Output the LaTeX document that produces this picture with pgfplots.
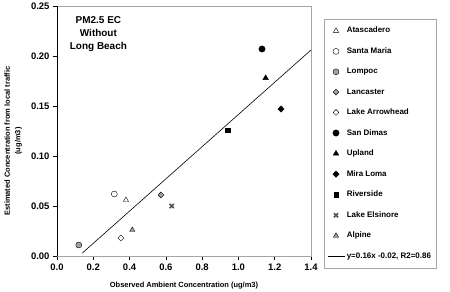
\documentclass[border=0pt]{standalone}
\usepackage{fontspec}
\setmainfont{Liberation Sans}
\usepackage{pgfplots}
\pgfplotsset{compat=1.18}
\definecolor{mgray}{RGB}{165,165,165}
\definecolor{xgray}{RGB}{80,80,80}
\definecolor{fgray}{RGB}{160,160,160}
\begin{document}
\begin{tikzpicture}
\useasboundingbox (-57bp,-36bp) rectangle (393bp,256bp);
\begin{axis}[
  scale only axis, width=254bp, height=250bp,
  xmin=0, xmax=1.4, ymin=0, ymax=0.25,
  xtick={0,0.2,0.4,0.6,0.8,1.0,1.2,1.4},
  ytick={0,0.05,0.1,0.15,0.2,0.25},
  xticklabel style={/pgf/number format/.cd,fixed,fixed zerofill,precision=1},
  yticklabel style={/pgf/number format/.cd,fixed,fixed zerofill,precision=2},
  /pgf/number format/assume math mode=true,
  tick label style={font=\bfseries\fontsize{9.5}{11}\selectfont},
  tick align=outside, xtick pos=bottom, ytick pos=left,
  major tick length=4bp,
  tick style={black, line width=0.6pt},
  axis line style={mgray, line width=0.6pt},
  xlabel={Observed Ambient Concentration (ug/m3)},
  ylabel={Estimated Concentration from local traffic\\(ug/m3)},
  xlabel style={font=\bfseries\fontsize{7.5}{9}\selectfont, at={(axis description cs:0.5,-0.12)}, anchor=center},
  ylabel style={font=\bfseries\fontsize{7.5}{10.5}\selectfont, align=center, at={(axis description cs:-0.172,0.46)}, anchor=center},
  legend style={at={(axis description cs:1.0512,0.948)}, anchor=north west,
    draw=mgray, font=\bfseries\fontsize{8}{9}\selectfont, row sep=9.3bp,
    inner xsep=3bp, inner ysep=6bp},
  legend cell align=left,
  every axis plot/.append style={only marks},
]
\addplot[mark=triangle*, mark size=3, draw=black, fill=white] coordinates {(0.38,0.056)};
\addlegendentry{Atascadero}
\addplot[mark=*, mark size=3, draw=black, fill=white] coordinates {(0.316,0.062)};
\addlegendentry{Santa Maria}
\addplot[mark=*, mark size=3, draw=black, fill=fgray] coordinates {(0.12,0.011)};
\addlegendentry{Lompoc}
\addplot[mark=diamond*, mark size=3, draw=black, fill=fgray, mark options={xscale=1.3}] coordinates {(0.573,0.061)};
\addlegendentry{Lancaster}
\addplot[mark=diamond*, mark size=3, draw=black, fill=white, mark options={xscale=1.3}] coordinates {(0.352,0.018)};
\addlegendentry{Lake Arrowhead}
\addplot[mark=*, mark size=3.2, draw=black, fill=black] coordinates {(1.13,0.207)};
\addlegendentry{San Dimas}
\addplot[mark=triangle*, mark size=3.2, draw=black, fill=black] coordinates {(1.15,0.178)};
\addlegendentry{Upland}
\addplot[mark=diamond*, mark size=3.2, draw=black, fill=black, mark options={xscale=1.3}] coordinates {(1.235,0.147)};
\addlegendentry{Mira Loma}
\addplot[mark=square*, mark size=2.3, draw=black, fill=black] coordinates {(0.94,0.126)};
\addlegendentry{Riverside}
\addplot[mark=x, mark size=3, draw=xgray, line width=1.6pt, mark options={line width=1.6pt}] coordinates {(0.632,0.050)};
\addlegendentry{Lake Elsinore}
\addplot[mark=triangle*, mark size=3, draw=black, fill=fgray] coordinates {(0.415,0.026)};
\addlegendentry{Alpine}
\addplot[black, line width=0.6pt, sharp plot, no marks] coordinates {(0.14,0.003) (1.4,0.206)};
\addlegendentry{y=0.16x -0.02, R2=0.86}
\draw[black, line width=0.6pt] (rel axis cs:0,1) -- (rel axis cs:0,0) -- (rel axis cs:1,0);
\node[align=center, font=\bfseries\fontsize{10}{13}\selectfont, anchor=north] at (axis description cs:0.163,0.97) {PM2.5 EC\\Without\\Long Beach};
\end{axis}
\end{tikzpicture}
\end{document}
